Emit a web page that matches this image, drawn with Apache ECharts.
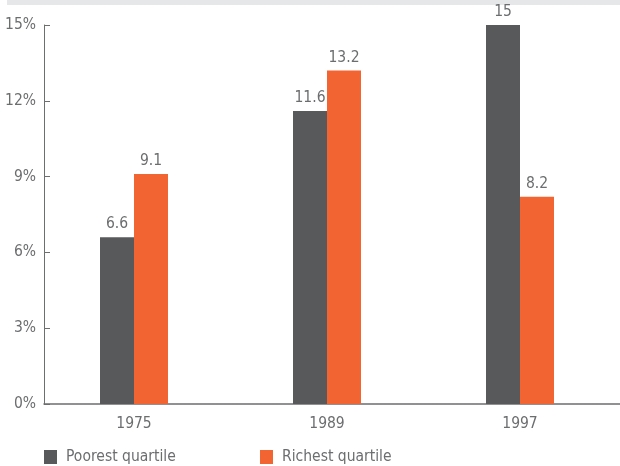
<!DOCTYPE html>
<html>
<head>
<meta charset="utf-8">
<title>Poorest vs richest quartile</title>
<script src="https://cdn.jsdelivr.net/npm/echarts@6/dist/echarts.min.js"></script>
<style>
  html, body { margin: 0; padding: 0; background: #ffffff; }
  #chart { width: 620px; height: 466px; }
</style>
</head>
<body>
<div id="chart"></div>
<script>
// Survey years on the category axis
const years = ['1975', '1989', '1997'];
// Share (%) for each quartile
const poorest = [6.6, 11.6, 15];
const richest = [9.1, 13.2, 8.2];
// Value axis range and step
const yMin = 0;
const yMax = 15;
const yStep = 3;

const FONT = '"DejaVu Sans Condensed", "Liberation Sans Narrow", sans-serif';
const FS = 15.5;
const TEXT = '#6c6d6f';
const GREY = '#58595b';
const ORANGE = '#f26532';
const AXIS = '#6d6e70';

const chart = echarts.init(document.getElementById('chart'), null, { renderer: 'canvas' });

const legendBase = {
  top: 449,
  padding: 0,
  icon: 'rect',
  itemWidth: 13, itemHeight: 14,
  textStyle: { fontFamily: FONT, fontSize: FS, color: TEXT, padding: [0, 0, 0, 4] }
};

const barLabel = { show: true, position: 'top', distance: 5, color: TEXT, fontSize: FS, fontFamily: FONT };

chart.setOption({
  animation: false,
  backgroundColor: '#ffffff',
  textStyle: { fontFamily: FONT },
  graphic: [{
    type: 'rect',
    left: 7, top: 0,
    shape: { width: 613, height: 5 },
    style: { fill: '#e6e7e8' },
    silent: true
  }],
  legend: [
    Object.assign({ left: 44, data: ['Poorest quartile'] }, legendBase),
    Object.assign({ left: 260, data: ['Richest quartile'] }, legendBase)
  ],
  grid: [
    // bars
    { left: 37.5, right: 3.5, top: 25, bottom: 62, containLabel: false },
    // axis frame
    { left: 44, right: 0, top: 25, bottom: 62, containLabel: false }
  ],
  xAxis: [
    {
      type: 'category', gridIndex: 0, data: years,
      axisLine: { show: false },
      axisTick: { show: false },
      axisLabel: { color: TEXT, fontSize: FS, fontFamily: FONT, margin: 12 }
    },
    {
      type: 'category', gridIndex: 1, data: years,
      axisLine: { show: true, lineStyle: { color: AXIS, width: 1.5 } },
      axisTick: { show: false },
      axisLabel: { show: false }
    }
  ],
  yAxis: [
    {
      type: 'value', gridIndex: 0, min: yMin, max: yMax, interval: yStep,
      show: false
    },
    {
      type: 'value', gridIndex: 1, min: yMin, max: yMax, interval: yStep,
      axisLine: { show: true, lineStyle: { color: AXIS, width: 1 } },
      axisTick: { show: true, inside: true, length: 6, lineStyle: { color: AXIS } },
      splitLine: { show: false },
      axisLabel: {
        color: TEXT, fontSize: FS, fontFamily: FONT, margin: 8,
        padding: [0, 0, 14, 0],
        formatter: v => v + '%'
      }
    }
  ],
  series: [
    {
      name: 'Poorest quartile', type: 'bar', xAxisIndex: 0, yAxisIndex: 0,
      data: poorest,
      barWidth: 34, barGap: '0%',
      itemStyle: { color: GREY },
      label: barLabel
    },
    {
      name: 'Richest quartile', type: 'bar', xAxisIndex: 0, yAxisIndex: 0,
      data: richest,
      barWidth: 34, barGap: '0%',
      itemStyle: { color: ORANGE },
      label: barLabel
    }
  ]
});
</script>
</body>
</html>
